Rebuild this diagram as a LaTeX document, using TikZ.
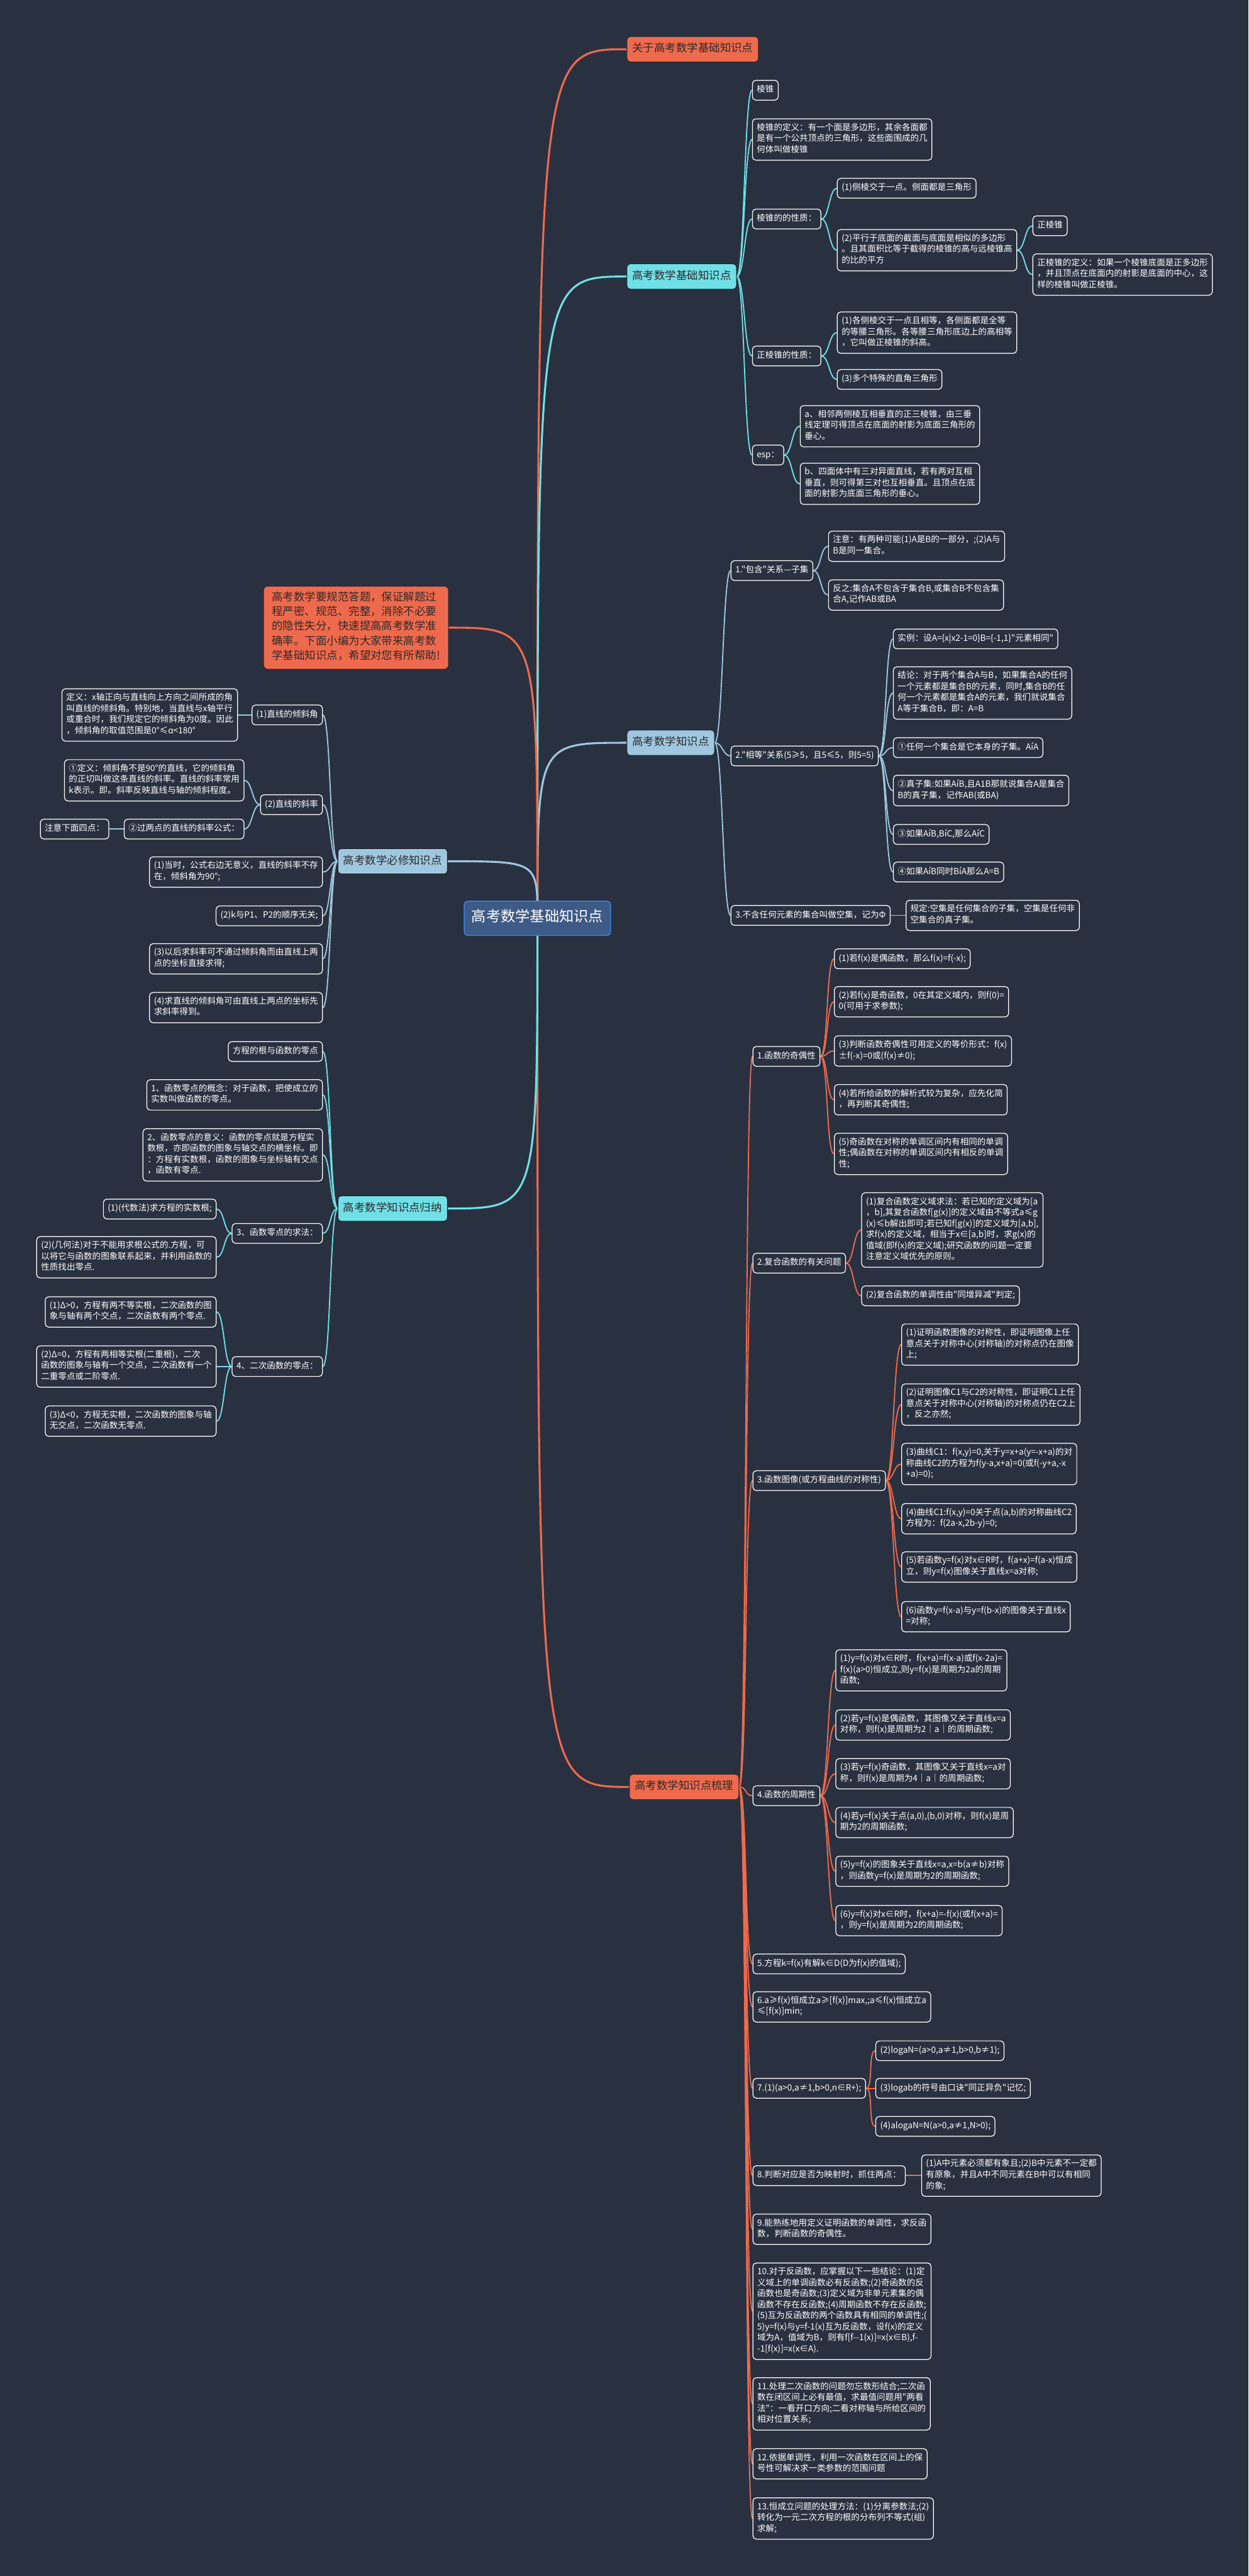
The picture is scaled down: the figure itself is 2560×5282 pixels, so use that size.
\documentclass[tikz,border=0pt]{standalone}
\usepackage{fontspec}
\newfontfamily\zhfont{Noto Sans CJK SC}
\definecolor{bgc}{HTML}{293140}
\definecolor{orng}{HTML}{EF6A4D}
\definecolor{cyn}{HTML}{6FE0E6}
\definecolor{lblu}{HTML}{9FC8E0}
\definecolor{rootfill}{HTML}{3E5A86}
\definecolor{rootline}{HTML}{4280D6}
\definecolor{darktext}{HTML}{2E2A2A}
\pgfdeclarelayer{back}
\pgfdeclarelayer{wires}
\pgfsetlayers{back,wires,main}
\tikzset{
  leaf/.style={draw=white, line width=1.6pt, rounded corners=7pt, fill=bgc, text=white,
    font=\zhfont\fontsize{17.5}{22.6}\selectfont, align=left, inner xsep=9pt, inner ysep=9pt,
    execute at begin node=\strut, execute at end node=\strut},
  topic/.style={fill=#1, draw=bgc!70!black, line width=1.2pt, rounded corners=7pt, text=darktext,
    font=\zhfont\fontsize{22.5}{30}\selectfont, align=left, inner xsep=11pt, inner ysep=11pt,
    execute at begin node=\strut, execute at end node=\strut},
  rootbox/.style={fill=rootfill, draw=rootline, line width=2pt, rounded corners=7pt, text=white,
    font=\zhfont\fontsize{30}{36}\selectfont, inner xsep=15pt, inner ysep=17pt,
    execute at begin node=\strut},
  trunk/.style={line width=4pt, #1},
  wire/.style={line width=2.4pt, #1},
}
\begin{document}
\begin{tikzpicture}[x=1pt,y=-1pt,line cap=round,line join=round]
  \begin{pgfonlayer}{back}
    \fill[bgc] (0,0) rectangle (2560,5282);
  \end{pgfonlayer}

  \node[rootbox] (root) at (1102,1883) {高考数学基础知识点};

  % main topics
  \node[topic=orng, anchor=west] (guan) at (1285,101) {关于高考数学基础知识点};
  \node[topic=cyn, anchor=west] (jichu) at (1285,567) {高考数学基础知识点};
  \node[topic=lblu, anchor=west] (zhishi) at (1285,1523) {高考数学知识点};
  \node[topic=orng, anchor=west] (shuli) at (1290,3664) {高考数学知识点梳理};
  \node[topic=orng, anchor=east, inner xsep=17pt] (intro) at (920,1287)
    {高考数学要规范答题，保证解题过\\程严密、规范、完整，消除不必要\\的隐性失分，快速提高高考数学准\\确率。下面小编为大家带来高考数\\学基础知识点，希望对您有所帮助!};
  \node[topic=lblu, anchor=east] (bixiu) at (918,1766) {高考数学必修知识点};
  \node[topic=cyn, anchor=east] (guina) at (918,2478) {高考数学知识点归纳};

  % 高考数学基础知识点
  \node[leaf, anchor=west] (lz) at (1542,185) {棱锥};
  \node[leaf, anchor=west] (lzdef) at (1542,286) {棱锥的定义：有一个面是多边形，其余各面都\\是有一个公共顶点的三角形，这些面围成的几\\何体叫做棱锥};
  \node[leaf, anchor=west] (lzxz) at (1542,449) {棱锥的的性质：};
  \node[leaf, anchor=west] (xz1) at (1716,386) {(1)侧棱交于一点。侧面都是三角形};
  \node[leaf, anchor=west] (xz2) at (1716,513) {(2)平行于底面的截面与底面是相似的多边形\\。且其面积比等于截得的棱锥的高与远棱锥高\\的比的平方};
  \node[leaf, anchor=west] (zlz) at (2117,463) {正棱锥};
  \node[leaf, anchor=west] (zlzdef) at (2117,563) {正棱锥的定义：如果一个棱锥底面是正多边形\\，并且顶点在底面内的射影是底面的中心，这\\样的棱锥叫做正棱锥。};
  \node[leaf, anchor=west] (zlzxz) at (1542,730) {正棱锥的性质：};
  \node[leaf, anchor=west] (zxz1) at (1716,682) {(1)各侧棱交于一点且相等，各侧面都是全等\\的等腰三角形。各等腰三角形底边上的高相等\\，它叫做正棱锥的斜高。};
  \node[leaf, anchor=west] (zxz3) at (1716,778) {(3)多个特殊的直角三角形};
  \node[leaf, anchor=west] (esp) at (1542,933) {esp：};
  \node[leaf, anchor=west] (espa) at (1640,874) {a、相邻两侧棱互相垂直的正三棱锥，由三垂\\线定理可得顶点在底面的射影为底面三角形的\\垂心。};
  \node[leaf, anchor=west] (espb) at (1640,992) {b、四面体中有三对异面直线，若有两对互相\\垂直，则可得第三对也互相垂直。且顶点在底\\面的射影为底面三角形的垂心。};

  % 高考数学知识点
  \node[leaf, anchor=west] (bh) at (1498,1170) {1."包含"关系—子集};
  \node[leaf, anchor=west] (bh1) at (1698,1120) {注意：有两种可能(1)A是B的一部分，;(2)A与\\B是同一集合。};
  \node[leaf, anchor=west] (bh2) at (1698,1220) {反之:集合A不包含于集合B,或集合B不包含集\\合A,记作AB或BA};
  \node[leaf, anchor=west] (xd) at (1498,1550) {2."相等"关系(5≥5，且5≤5，则5=5)};
  \node[leaf, anchor=west] (xd1) at (1831,1310) {实例：设A=\{x|x2-1=0\}B=\{-1,1\}"元素相同"};
  \node[leaf, anchor=west] (xd2) at (1831,1421) {结论：对于两个集合A与B，如果集合A的任何\\一个元素都是集合B的元素，同时,集合B的任\\何一个元素都是集合A的元素，我们就说集合\\A等于集合B，即：A=B};
  \node[leaf, anchor=west] (xd3) at (1831,1533) {①任何一个集合是它本身的子集。AíA};
  \node[leaf, anchor=west] (xd4) at (1831,1621) {②真子集:如果AíB,且A1B那就说集合A是集合\\B的真子集，记作AB(或BA)};
  \node[leaf, anchor=west] (xd5) at (1831,1711) {③如果AíB,BíC,那么AíC};
  \node[leaf, anchor=west] (xd6) at (1831,1788) {④如果AíB同时BíA那么A=B};
  \node[leaf, anchor=west] (kj) at (1498,1877) {3.不含任何元素的集合叫做空集，记为Φ};
  \node[leaf, anchor=west] (kj1) at (1857,1877) {规定:空集是任何集合的子集，空集是任何非\\空集合的真子集。};

  % 高考数学知识点梳理
  \node[leaf, anchor=west] (f1) at (1543,2166) {1.函数的奇偶性};
  \node[leaf, anchor=west] (f1a) at (1710,1966) {(1)若f(x)是偶函数，那么f(x)=f(-x);};
  \node[leaf, anchor=west] (f1b) at (1710,2054) {(2)若f(x)是奇函数，0在其定义域内，则f(0)=\\0(可用于求参数);};
  \node[leaf, anchor=west] (f1c) at (1710,2155) {(3)判断函数奇偶性可用定义的等价形式：f(x)\\±f(-x)=0或(f(x)≠0);};
  \node[leaf, anchor=west] (f1d) at (1710,2255) {(4)若所给函数的解析式较为复杂，应先化简\\，再判断其奇偶性;};
  \node[leaf, anchor=west] (f1e) at (1710,2366) {(5)奇函数在对称的单调区间内有相同的单调\\性;偶函数在对称的单调区间内有相反的单调\\性;};
  \node[leaf, anchor=west] (f2) at (1543,2590) {2.复合函数的有关问题};
  \node[leaf, anchor=west] (f2a) at (1766,2522) {(1)复合函数定义域求法：若已知的定义域为[a\\，b],其复合函数f[g(x)]的定义域由不等式a≤g\\(x)≤b解出即可;若已知f[g(x)]的定义域为[a,b],\\求f(x)的定义域，相当于x∈[a,b]时，求g(x)的\\值域(即f(x)的定义域);研究函数的问题一定要\\注意定义域优先的原则。};
  \node[leaf, anchor=west] (f2b) at (1766,2657) {(2)复合函数的单调性由"同增异减"判定;};
  \node[leaf, anchor=west] (f3) at (1543,3036) {3.函数图像(或方程曲线的对称性)};
  \node[leaf, anchor=west] (f3a) at (1848,2757) {(1)证明函数图像的对称性，即证明图像上任\\意点关于对称中心(对称轴)的对称点仍在图像\\上;};
  \node[leaf, anchor=west] (f3b) at (1848,2880) {(2)证明图像C1与C2的对称性，即证明C1上任\\意点关于对称中心(对称轴)的对称点仍在C2上\\，反之亦然;};
  \node[leaf, anchor=west] (f3c) at (1848,3002) {(3)曲线C1：f(x,y)=0,关于y=x+a(y=-x+a)的对\\称曲线C2的方程为f(y-a,x+a)=0(或f(-y+a,-x\\+a)=0);};
  \node[leaf, anchor=west] (f3d) at (1848,3114) {(4)曲线C1:f(x,y)=0关于点(a,b)的对称曲线C2\\方程为：f(2a-x,2b-y)=0;};
  \node[leaf, anchor=west] (f3e) at (1848,3213) {(5)若函数y=f(x)对x∈R时，f(a+x)=f(a-x)恒成\\立，则y=f(x)图像关于直线x=a对称;};
  \node[leaf, anchor=west] (f3f) at (1848,3315) {(6)函数y=f(x-a)与y=f(b-x)的图像关于直线x\\=对称;};
  \node[leaf, anchor=west] (f4) at (1543,3682) {4.函数的周期性};
  \node[leaf, anchor=west] (f4a) at (1713,3425) {(1)y=f(x)对x∈R时，f(x+a)=f(x-a)或f(x-2a)=\\f(x)(a>0)恒成立,则y=f(x)是周期为2a的周期\\函数;};
  \node[leaf, anchor=west] (f4b) at (1713,3537) {(2)若y=f(x)是偶函数，其图像又关于直线x=a\\对称，则f(x)是周期为2｜a｜的周期函数;};
  \node[leaf, anchor=west] (f4c) at (1713,3637) {(3)若y=f(x)奇函数，其图像又关于直线x=a对\\称，则f(x)是周期为4｜a｜的周期函数;};
  \node[leaf, anchor=west] (f4d) at (1713,3737) {(4)若y=f(x)关于点(a,0),(b,0)对称，则f(x)是周\\期为2的周期函数;};
  \node[leaf, anchor=west] (f4e) at (1713,3837) {(5)y=f(x)的图象关于直线x=a,x=b(a≠b)对称\\，则函数y=f(x)是周期为2的周期函数;};
  \node[leaf, anchor=west] (f4f) at (1713,3938) {(6)y=f(x)对x∈R时，f(x+a)=-f(x)(或f(x+a)=\\，则y=f(x)是周期为2的周期函数;};
  \node[leaf, anchor=west] (f5) at (1543,4027) {5.方程k=f(x)有解k∈D(D为f(x)的值域);};
  \node[leaf, anchor=west] (f6) at (1543,4115) {6.a≥f(x)恒成立a≥[f(x)]max,;a≤f(x)恒成立a\\≤[f(x)]min;};
  \node[leaf, anchor=west] (f7) at (1543,4282) {7.(1)(a>0,a≠1,b>0,n∈R+);};
  \node[leaf, anchor=west] (f7a) at (1795,4205) {(2)logaN=(a>0,a≠1,b>0,b≠1);};
  \node[leaf, anchor=west] (f7b) at (1795,4282) {(3)logab的符号由口诀"同正异负"记忆;};
  \node[leaf, anchor=west] (f7c) at (1795,4360) {(4)alogaN=N(a>0,a≠1,N>0);};
  \node[leaf, anchor=west] (f8) at (1543,4461) {8.判断对应是否为映射时，抓住两点：};
  \node[leaf, anchor=west] (f8a) at (1889,4461) {(1)A中元素必须都有象且;(2)B中元素不一定都\\有原象，并且A中不同元素在B中可以有相同\\的象;};
  \node[leaf, anchor=west] (f9) at (1543,4571) {9.能熟练地用定义证明函数的单调性，求反函\\数，判断函数的奇偶性。};
  \node[leaf, anchor=west] (f10) at (1543,4739) {10.对于反函数，应掌握以下一些结论：(1)定\\义域上的单调函数必有反函数;(2)奇函数的反\\函数也是奇函数;(3)定义域为非单元素集的偶\\函数不存在反函数;(4)周期函数不存在反函数;\\(5)互为反函数的两个函数具有相同的单调性;(\\5)y=f(x)与y=f-1(x)互为反函数，设f(x)的定义\\域为A，值域为B，则有f[f--1(x)]=x(x∈B),f-\\-1[f(x)]=x(x∈A).};
  \node[leaf, anchor=west] (f11) at (1543,4929) {11.处理二次函数的问题勿忘数形结合;二次函\\数在闭区间上必有最值，求最值问题用"两看\\法"：一看开口方向;二看对称轴与所给区间的\\相对位置关系;};
  \node[leaf, anchor=west] (f12) at (1543,5052) {12.依据单调性，利用一次函数在区间上的保\\号性可解决求一类参数的范围问题};
  \node[leaf, anchor=west] (f13) at (1543,5164) {13.恒成立问题的处理方法：(1)分离参数法;(2)\\转化为一元二次方程的根的分布列不等式(组)\\求解;};

  % 高考数学必修知识点
  \node[leaf, anchor=east] (qxj) at (662,1466) {(1)直线的倾斜角};
  \node[leaf, anchor=east] (qxjdef) at (488,1466) {定义：x轴正向与直线向上方向之间所成的角\\叫直线的倾斜角。特别地，当直线与x轴平行\\或重合时，我们规定它的倾斜角为0度。因此\\，倾斜角的取值范围是0°≤α<180°};
  \node[leaf, anchor=east] (xl) at (662,1650) {(2)直线的斜率};
  \node[leaf, anchor=east] (xl1) at (501,1600) {①定义：倾斜角不是90°的直线，它的倾斜角\\的正切叫做这条直线的斜率。直线的斜率常用\\k表示。即。斜率反映直线与轴的倾斜程度。};
  \node[leaf, anchor=east] (xl2) at (501,1700) {②过两点的直线的斜率公式：};
  \node[leaf, anchor=east] (zy) at (224,1700) {注意下面四点：};
  \node[leaf, anchor=east] (bx3) at (662,1788) {(1)当时，公式右边无意义，直线的斜率不存\\在，倾斜角为90°;};
  \node[leaf, anchor=east] (bx4) at (662,1878) {(2)k与P1、P2的顺序无关;};
  \node[leaf, anchor=east] (bx5) at (662,1966) {(3)以后求斜率可不通过倾斜角而由直线上两\\点的坐标直接求得;};
  \node[leaf, anchor=east] (bx6) at (662,2066) {(4)求直线的倾斜角可由直线上两点的坐标先\\求斜率得到。};

  % 高考数学知识点归纳
  \node[leaf, anchor=east] (g0) at (662,2156) {方程的根与函数的零点};
  \node[leaf, anchor=east] (g1) at (662,2245) {1、函数零点的概念：对于函数，把使成立的\\实数叫做函数的零点。};
  \node[leaf, anchor=east] (g2) at (662,2368) {2、函数零点的意义：函数的零点就是方程实\\数根，亦即函数的图象与轴交点的横坐标。即\\：方程有实数根，函数的图象与坐标轴有交点\\，函数有零点.};
  \node[leaf, anchor=east] (g3) at (662,2529) {3、函数零点的求法：};
  \node[leaf, anchor=east] (g3a) at (444,2479) {(1)(代数法)求方程的实数根;};
  \node[leaf, anchor=east] (g3b) at (444,2578) {(2)(几何法)对于不能用求根公式的.方程，可\\以将它与函数的图象联系起来，并利用函数的\\性质找出零点.};
  \node[leaf, anchor=east] (g4) at (662,2802) {4、二次函数的零点：};
  \node[leaf, anchor=east] (g4a) at (444,2690) {(1)Δ>0，方程有两不等实根，二次函数的图\\象与轴有两个交点，二次函数有两个零点.};
  \node[leaf, anchor=east] (g4b) at (444,2802) {(2)Δ=0，方程有两相等实根(二重根)，二次\\函数的图象与轴有一个交点，二次函数有一个\\二重零点或二阶零点.};
  \node[leaf, anchor=east] (g4c) at (444,2914) {(3)Δ<0，方程无实根，二次函数的图象与轴\\无交点，二次函数无零点.};

  \begin{pgfonlayer}{wires}
    % from the root
    \foreach \t/\c in {guan/orng,jichu/cyn,zhishi/lblu,shuli/orng}
      \draw[trunk=\c] (root.center) .. controls (root.center |- \t.west) .. (\t.west);
    \foreach \t/\c in {intro/orng,bixiu/lblu,guina/cyn}
      \draw[trunk=\c] (root.center) .. controls (root.center |- \t.east) .. (\t.east);

    % right side
    \foreach \a/\b/\c in {jichu/lz/cyn,jichu/lzdef/cyn,jichu/lzxz/cyn,jichu/zlzxz/cyn,jichu/esp/cyn,
        lzxz/xz1/cyn,lzxz/xz2/cyn,xz2/zlz/cyn,xz2/zlzdef/cyn,zlzxz/zxz1/cyn,zlzxz/zxz3/cyn,
        esp/espa/cyn,esp/espb/cyn,
        zhishi/bh/lblu,zhishi/xd/lblu,zhishi/kj/lblu,bh/bh1/lblu,bh/bh2/lblu,
        xd/xd1/lblu,xd/xd2/lblu,xd/xd3/lblu,xd/xd4/lblu,xd/xd5/lblu,xd/xd6/lblu,kj/kj1/lblu,
        shuli/f1/orng,shuli/f2/orng,shuli/f3/orng,shuli/f4/orng,shuli/f5/orng,shuli/f6/orng,
        shuli/f7/orng,shuli/f8/orng,shuli/f9/orng,shuli/f10/orng,shuli/f11/orng,shuli/f12/orng,
        shuli/f13/orng,
        f1/f1a/orng,f1/f1b/orng,f1/f1c/orng,f1/f1d/orng,f1/f1e/orng,f2/f2a/orng,f2/f2b/orng,
        f3/f3a/orng,f3/f3b/orng,f3/f3c/orng,f3/f3d/orng,f3/f3e/orng,f3/f3f/orng,
        f4/f4a/orng,f4/f4b/orng,f4/f4c/orng,f4/f4d/orng,f4/f4e/orng,f4/f4f/orng,
        f7/f7a/orng,f7/f7b/orng,f7/f7c/orng,f8/f8a/orng}
      \draw[wire=\c] (\a.east) .. controls +(16,0) and +(-16,0) .. (\b.west);

    % left side
    \foreach \a/\b/\c in {bixiu/qxj/lblu,bixiu/xl/lblu,bixiu/bx3/lblu,bixiu/bx4/lblu,bixiu/bx5/lblu,
        bixiu/bx6/lblu,qxj/qxjdef/lblu,xl/xl1/lblu,xl/xl2/lblu,xl2/zy/lblu,
        guina/g0/cyn,guina/g1/cyn,guina/g2/cyn,guina/g3/cyn,guina/g4/cyn,
        g3/g3a/cyn,g3/g3b/cyn,g4/g4a/cyn,g4/g4b/cyn,g4/g4c/cyn}
      \draw[wire=\c] (\a.west) .. controls +(-16,0) and +(16,0) .. (\b.east);
  \end{pgfonlayer}
\end{tikzpicture}
\end{document}
